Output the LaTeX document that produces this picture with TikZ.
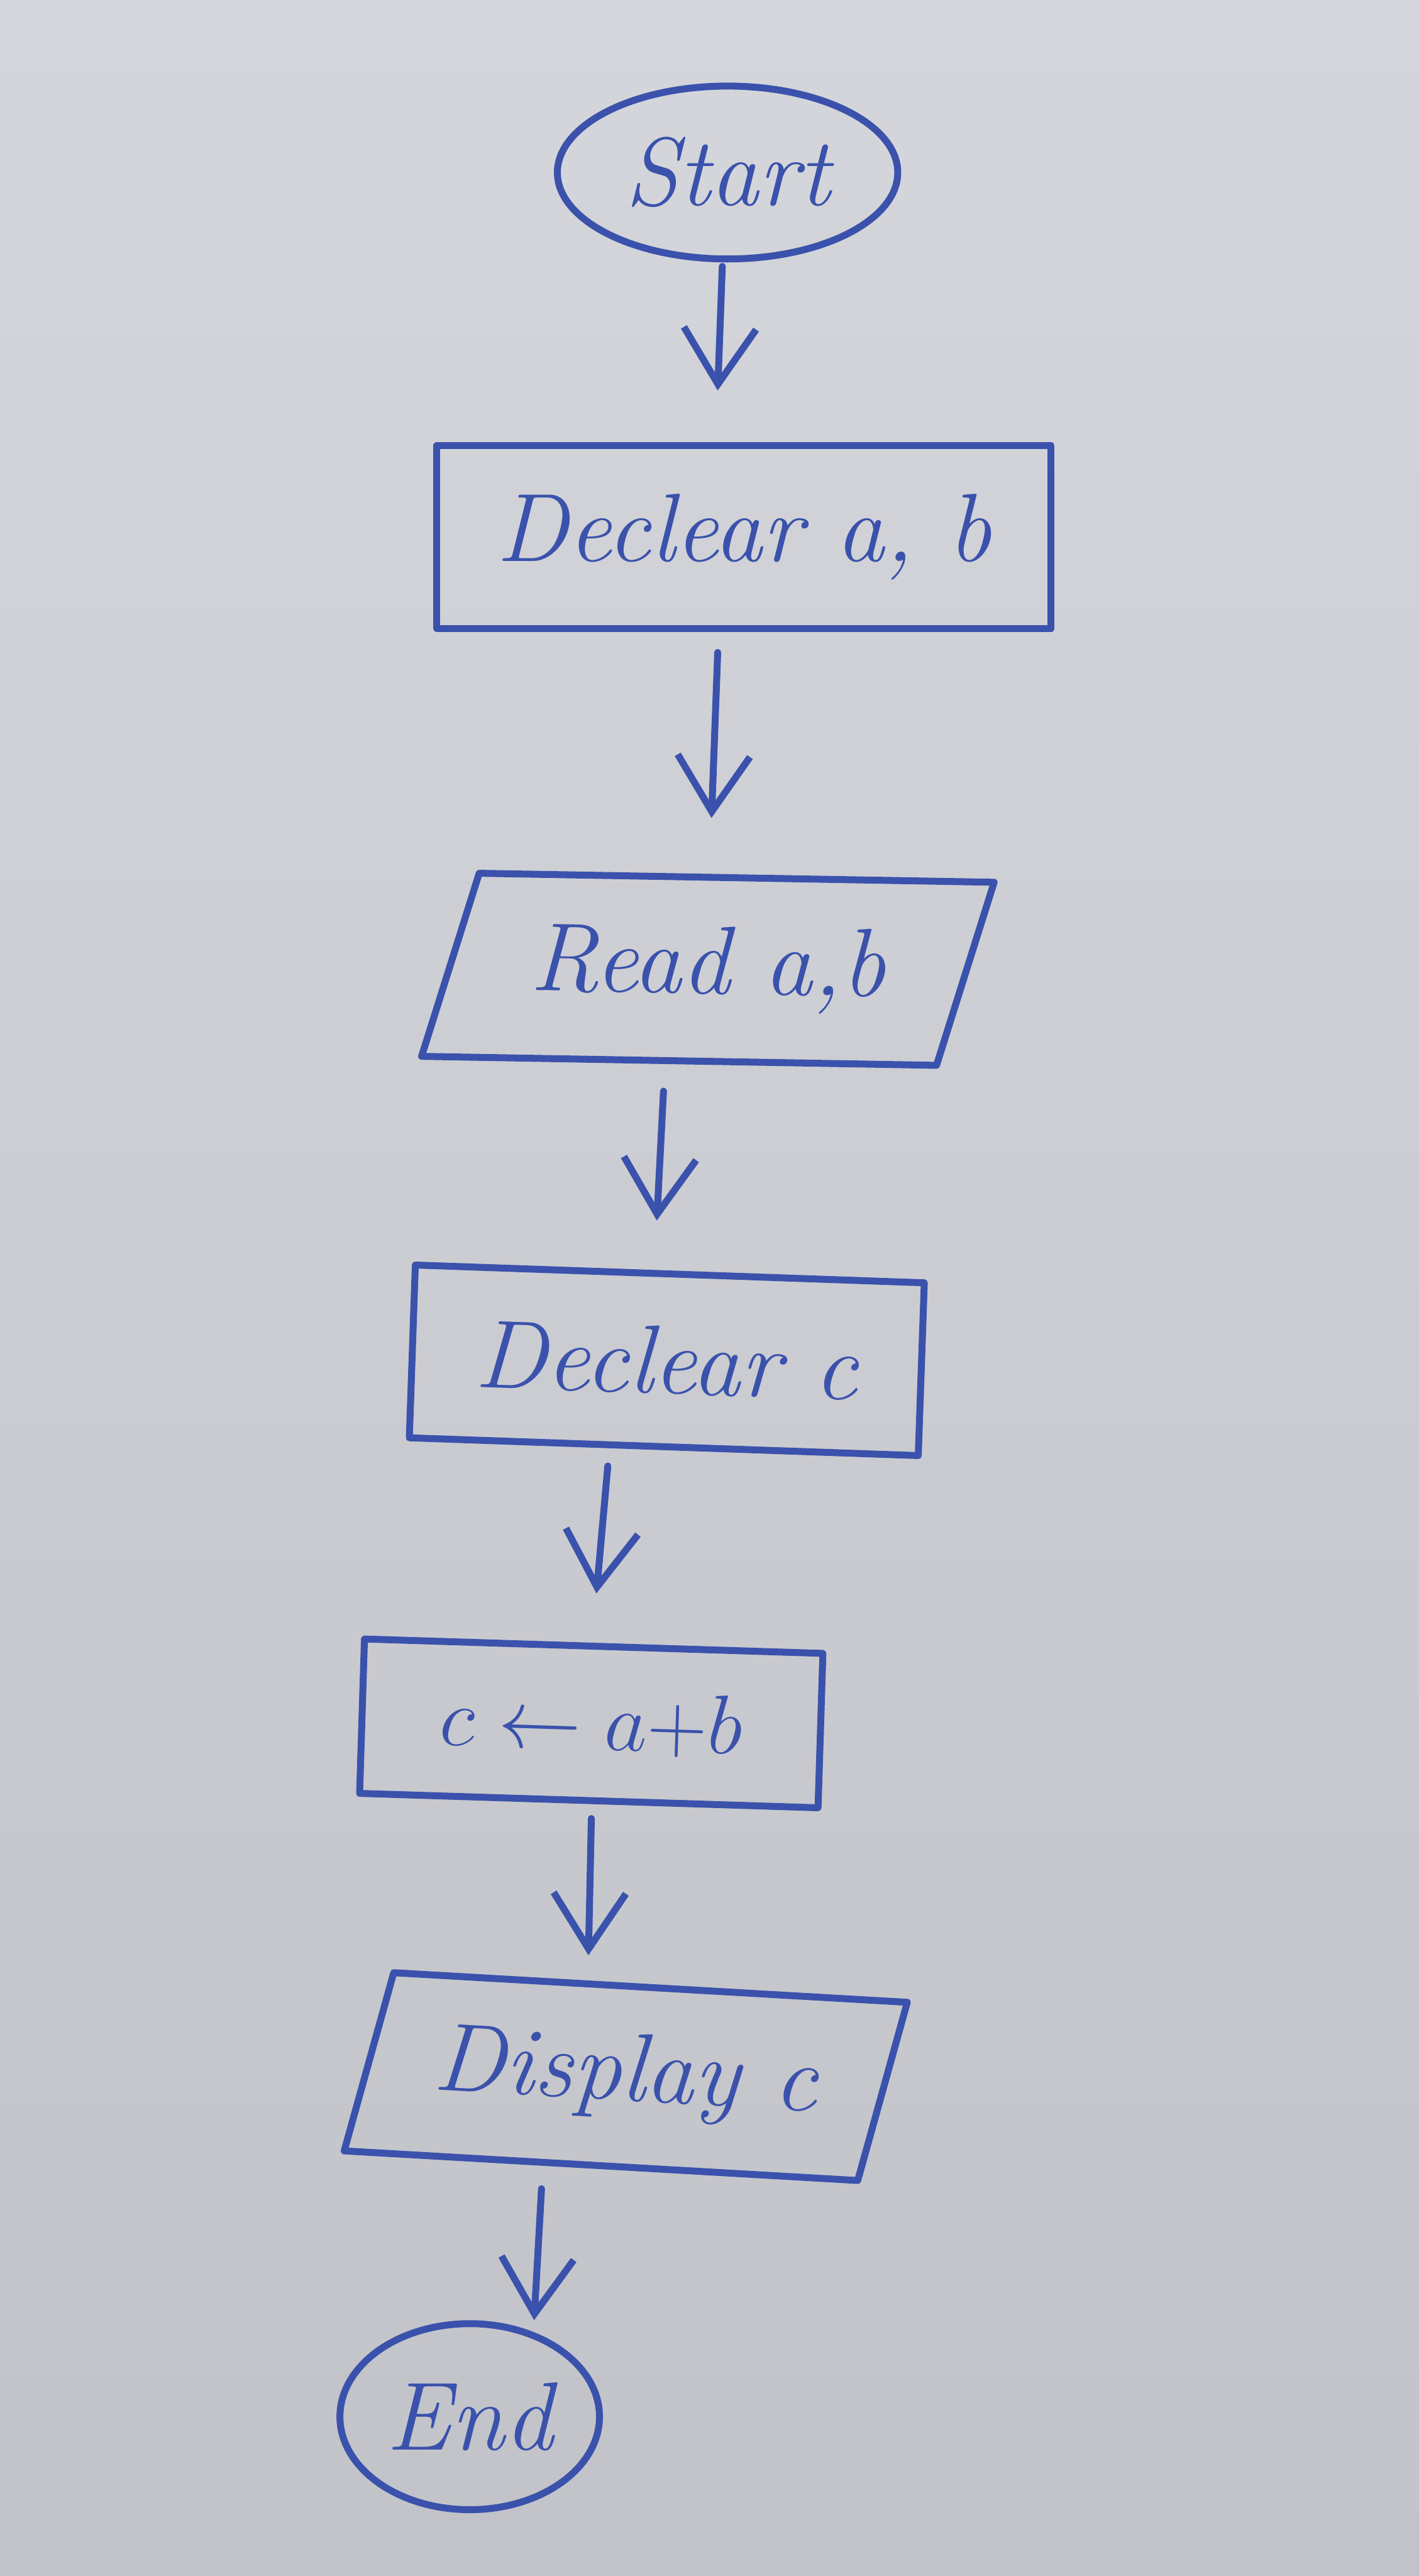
\documentclass[tikz,border=0pt]{standalone}
\usepackage{graphicx}
\usepackage{tikz}
\usetikzlibrary{arrows.meta,calc,positioning,shapes.geometric}
\definecolor{ink}{RGB}{58,82,172}
\definecolor{papertop}{RGB}{213,214,219}
\definecolor{paperbot}{RGB}{194,195,201}
\newcommand{\handfont}{\fontsize{42}{50}\selectfont\itshape}
\tikzset{
  box/.style={draw=ink, line width=3pt, line join=round, text=ink, inner sep=0pt, font=\handfont},
  term/.style={box, ellipse},
  proc/.style={box, rectangle},
  io/.style={box, trapezium, trapezium stretches=true},
  flow/.style={draw=ink, line width=3pt, line cap=round,
    -{Straight Barb[length=0.85cm,width=1.1cm,line width=3pt]}}
}

\begin{document}
\begin{tikzpicture}[x=0.025cm,y=-0.025cm]
  % paper
  \shade[top color=papertop,bottom color=paperbot] (0,0) rectangle (864,1568);
  \useasboundingbox (0,0) rectangle (864,1568);

  % steps
  \node[term, minimum width=5.18cm, minimum height=2.63cm] (start) at (443,105) {Start};
  \node[proc, minimum width=9.35cm, minimum height=2.78cm] (dab) at (453,327) {Declear a, b};
  \node[io, trapezium left angle=64, trapezium right angle=116,
        minimum width=8.68cm, minimum height=2.8cm, rotate=-1] (rab) at (431,590) {Read a,b};
  \node[proc, minimum width=6.98cm, minimum height=2.35cm, rotate=-1.8,
        font=\fontsize{36}{42}\selectfont] (cab) at (360,1049) {\scalebox{1.45}{$c\leftarrow a{+}b$}};
  \node[proc, minimum width=7.75cm, minimum height=2.63cm, rotate=-2] (dc) at (406,828) {Declear c};
  \node[io, trapezium left angle=70, trapezium right angle=110,
        minimum width=8.45cm, minimum height=2.75cm, rotate=-3.3] (disp) at (381,1264) {Display c};
  \node[term, minimum width=3.95cm, minimum height=2.83cm] (end) at (286,1471) {End};

  % arrows
  \draw[flow] ([xshift=-0.08cm,yshift=-0.06cm]start.south) -- ([xshift=-0.4cm,yshift=0.79cm]dab.north);
  \draw[flow] ([xshift=-0.4cm,yshift=-0.31cm]dab.south) -- ([xshift=0.03cm,yshift=0.85cm]rab.north);
  \draw[flow] ([xshift=-0.65cm,yshift=-0.4cm]rab.south) -- ([xshift=-0.2cm,yshift=0.76cm]dc.north);
  \draw[flow] ([xshift=-0.85cm,yshift=-0.24cm]dc.south) -- ([xshift=0.04cm,yshift=0.75cm]cab.north);
  \draw[flow] ([xshift=0.04cm,yshift=-0.22cm]cab.south) -- ([xshift=-0.65cm,yshift=0.42cm]disp.north);
  \draw[flow] ([xshift=-1.2cm,yshift=-0.28cm]disp.south) -- ([xshift=0.98cm]end.north);
\end{tikzpicture}
\end{document}
